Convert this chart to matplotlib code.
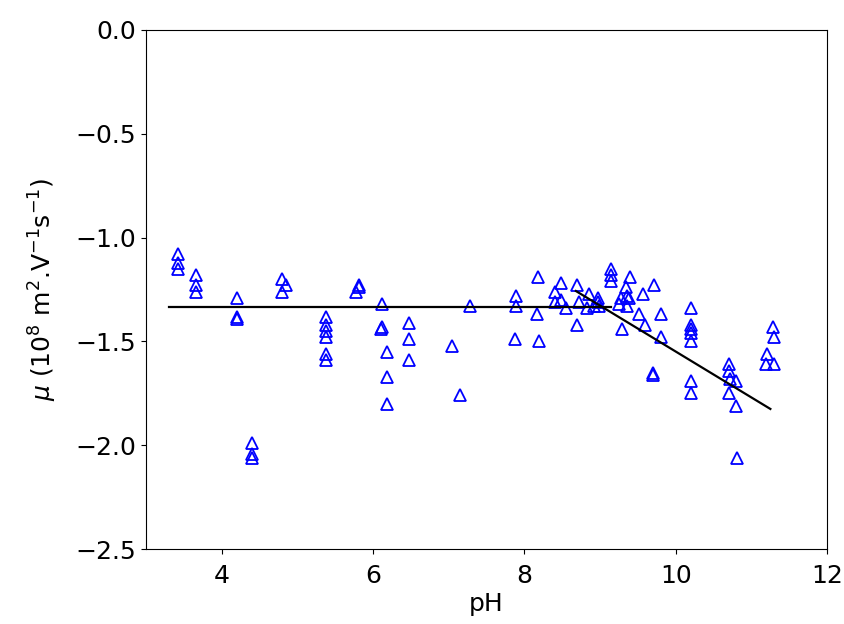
import matplotlib
matplotlib.use("Agg")
import matplotlib.pyplot as plt

# Measured data: pH and mobility
ph = [3.42, 3.42, 3.42,
      3.66, 3.66, 3.66,
      4.20, 4.20, 4.20,
      4.40, 4.40, 4.40,
      4.80, 4.80, 4.85,
      5.38, 5.38, 5.38, 5.38, 5.38, 5.38,
      5.78, 5.82, 5.82,
      6.12, 6.12, 6.10,
      6.19, 6.19, 6.19,
      6.47, 6.47, 6.47,
      7.04, 7.15, 7.28,
      7.89, 7.89, 7.87,
      8.18, 8.16, 8.19,
      8.40, 8.41, 8.48, 8.48, 8.55,
      8.70, 8.70, 8.72,
      8.83, 8.85, 8.92,
      8.97, 8.97, 8.98,
      9.15, 9.15, 9.14,
      9.25, 9.27, 9.29,
      9.34, 9.36, 9.36, 9.38, 9.40,
      9.51, 9.57, 9.60,
      9.70, 9.70, 9.71,
      9.81, 9.81,
      10.20, 10.20, 10.20, 10.20, 10.20, 10.20, 10.20,
      10.70, 10.70, 10.72, 10.70,
      10.80, 10.79, 10.81,
      11.20, 11.19,
      11.29, 11.30, 11.30]
mu = [-1.08, -1.12, -1.15,
      -1.18, -1.23, -1.26,
      -1.29, -1.38, -1.39,
      -1.99, -2.04, -2.06,
      -1.20, -1.26, -1.23,
      -1.38, -1.42, -1.45, -1.48, -1.56, -1.59,
      -1.26, -1.23, -1.24,
      -1.32, -1.43, -1.44,
      -1.55, -1.67, -1.80,
      -1.41, -1.49, -1.59,
      -1.52, -1.76, -1.33,
      -1.28, -1.33, -1.49,
      -1.19, -1.37, -1.50,
      -1.26, -1.31, -1.22, -1.30, -1.34,
      -1.23, -1.42, -1.31,
      -1.34, -1.27, -1.33,
      -1.29, -1.31, -1.33,
      -1.15, -1.18, -1.21,
      -1.32, -1.29, -1.44,
      -1.24, -1.28, -1.33, -1.29, -1.19,
      -1.37, -1.27, -1.42,
      -1.65, -1.66, -1.23,
      -1.37, -1.48,
      -1.34, -1.42, -1.44, -1.46, -1.50, -1.69, -1.75,
      -1.61, -1.64, -1.68, -1.75,
      -1.69, -1.81, -2.06,
      -1.56, -1.61,
      -1.43, -1.48, -1.61]

# Fitted trend lines
flat_x = [3.30, 9.15]
flat_y = [-1.333, -1.333]
slope_x = [8.68, 11.25]
slope_y = [-1.257, -1.825]

x_ticks = [4, 6, 8, 10, 12]
y_ticks = [0.0, -0.5, -1.0, -1.5, -2.0, -2.5]

plt.rcParams['font.family'] = ['DejaVu Sans']
fig = plt.figure(figsize=(8.44, 6.24), dpi=100)
ax = fig.add_axes([0.173, 0.12, 0.807, 0.832])

ax.plot(ph, mu, linestyle='none', marker='^', markersize=8.5,
        markerfacecolor='none', markeredgecolor='blue', markeredgewidth=1.3)
ax.plot(flat_x, flat_y, color='black', linewidth=1.6)
ax.plot(slope_x, slope_y, color='black', linewidth=1.6)

ax.set_xlim(3, 12)
ax.set_ylim(-2.5, 0.0)
ax.set_xticks(x_ticks)
ax.set_yticks(y_ticks)
ax.set_yticklabels([f"{v:.1f}".replace('-', '\u2212') for v in y_ticks])
ax.tick_params(labelsize=18)
ax.tick_params(axis='x', pad=7)
ax.set_xlabel('pH', fontsize=18, labelpad=3)
ax.set_ylabel(r'$\mu$ (10$^8$ m$^2$.V$^{-1}$s$^{-1}$)', fontsize=18, labelpad=12)

fig.savefig('out.png', dpi=100)
